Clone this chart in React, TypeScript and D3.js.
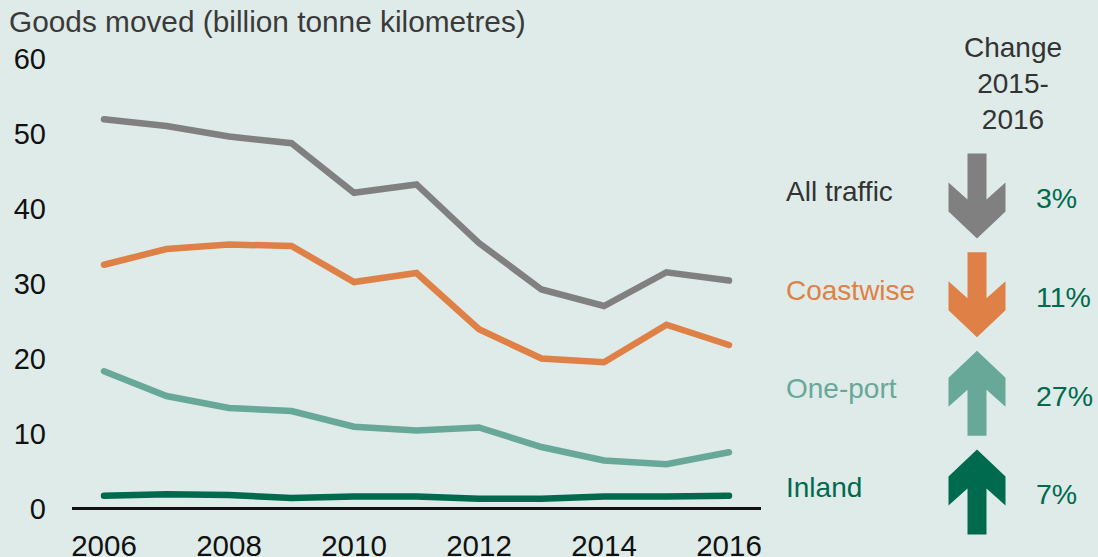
import React, { useEffect, useRef } from 'react';
import * as d3 from 'd3';

const years = [2006, 2007, 2008, 2009, 2010, 2011, 2012, 2013, 2014, 2015, 2016];
const allTraffic = [51.9, 51.0, 49.6, 48.7, 42.1, 43.2, 35.4, 29.2, 27.0, 31.5, 30.4];
const coastwise = [32.5, 34.6, 35.2, 35.0, 30.2, 31.4, 23.9, 20.0, 19.5, 24.5, 21.8];
const onePort = [18.3, 15.0, 13.4, 13.0, 10.9, 10.4, 10.8, 8.2, 6.4, 5.9, 7.5];
const inland = [1.7, 1.9, 1.8, 1.4, 1.6, 1.6, 1.3, 1.3, 1.6, 1.6, 1.7];

const seriesNames = ['All traffic', 'Coastwise', 'One-port', 'Inland'];
const seriesColors = ['#808080', '#df8046', '#67a898', '#006a4f'];
const labelColors = ['#333333', '#df8046', '#67a898', '#006a4f'];
const changes = [-3, -11, 27, 7];
const yTicks = [0, 10, 20, 30, 40, 50, 60];
const xTicks = [2006, 2008, 2010, 2012, 2014, 2016];

const W = 1098;
const H = 557;
const FONT = '"Liberation Sans", Arial, sans-serif';

export default function App() {
  const ref = useRef<SVGSVGElement>(null);

  useEffect(() => {
    const svg = d3.select(ref.current);
    svg.selectAll('*').remove();

    svg.append('rect').attr('width', W).attr('height', H).attr('fill', '#dfebe8');

    const x = d3.scaleLinear().domain([2006, 2016]).range([104, 729]);
    const y = d3.scaleLinear().domain([0, 60]).range([508.5, 58.5]);

    // title
    svg.append('text')
      .attr('x', 9).attr('y', 32)
      .attr('font-family', FONT).attr('font-size', 29.8)
      .attr('fill', '#3a3a3a')
      .text('Goods moved (billion tonne kilometres)');

    // y tick labels
    svg.selectAll('.ytick')
      .data(yTicks)
      .enter().append('text')
      .attr('class', 'ytick')
      .attr('x', 46)
      .attr('y', d => y(d))
      .attr('dy', '0.36em')
      .attr('text-anchor', 'end')
      .attr('font-family', FONT).attr('font-size', 29)
      .attr('fill', '#111')
      .text(d => d);

    // x tick labels
    svg.selectAll('.xtick')
      .data(xTicks)
      .enter().append('text')
      .attr('class', 'xtick')
      .attr('x', d => x(d))
      .attr('y', 556)
      .attr('text-anchor', 'middle')
      .attr('font-family', FONT).attr('font-size', 29.5)
      .attr('fill', '#111')
      .text(d => d);

    // baseline
    svg.append('line')
      .attr('x1', 72).attr('x2', 761)
      .attr('y1', y(0)).attr('y2', y(0))
      .attr('stroke', '#111').attr('stroke-width', 3);

    const series = [allTraffic, coastwise, onePort, inland];
    const line = d3.line<number>()
      .x((_, i) => x(years[i]))
      .y(d => y(d));

    svg.selectAll('.series')
      .data(series)
      .enter().append('path')
      .attr('class', 'series')
      .attr('d', d => line(d))
      .attr('fill', 'none')
      .attr('stroke', (_, i) => seriesColors[i])
      .attr('stroke-width', 6.5)
      .attr('stroke-linecap', 'round')
      .attr('stroke-linejoin', 'miter');

    // right panel header
    const header = svg.append('text')
      .attr('x', 1013).attr('y', 57)
      .attr('text-anchor', 'middle')
      .attr('font-family', FONT).attr('font-size', 28)
      .attr('fill', '#333');
    ['Change', '2015-', '2016'].forEach((t, i) => {
      header.append('tspan').attr('x', 1013).attr('dy', i === 0 ? 0 : 36).text(t);
    });

    const row = d3.scalePoint<string>().domain(seriesNames).range([196, 492]);

    // arrow shape centred on 0,0; dir +1 points down, -1 points up
    const arrowPath = (s: number) => {
      const p = d3.path();
      p.moveTo(-9.5, -42.5 * s);
      p.lineTo(9.5, -42.5 * s);
      p.lineTo(9.5, 3.5 * s);
      p.lineTo(28.5, -13.5 * s);
      p.lineTo(28.5, 15.5 * s);
      p.lineTo(0, 42.5 * s);
      p.lineTo(-28.5, 15.5 * s);
      p.lineTo(-28.5, -13.5 * s);
      p.lineTo(-9.5, 3.5 * s);
      p.closePath();
      return p.toString();
    };

    const rows = svg.selectAll('.row')
      .data(seriesNames)
      .enter().append('g')
      .attr('class', 'row')
      .attr('transform', d => `translate(0,${row(d)})`);

    rows.append('text')
      .attr('x', 786).attr('y', -5)
      .attr('dy', '0.36em')
      .attr('font-family', FONT).attr('font-size', 28)
      .attr('fill', (_, i) => labelColors[i])
      .text(d => d);

    rows.append('path')
      .attr('transform', 'translate(977,0)')
      .attr('d', (_, i) => arrowPath(changes[i] < 0 ? 1 : -1))
      .attr('fill', (_, i) => seriesColors[i]);

    rows.append('text')
      .attr('x', 1036).attr('y', 2)
      .attr('dy', '0.36em')
      .attr('font-family', FONT).attr('font-size', 28.5)
      .attr('fill', '#006a4f')
      .text((_, i) => `${Math.abs(changes[i])}%`);
  }, []);

  return (
    <svg
      ref={ref}
      width={W}
      height={H}
      style={{ position: 'absolute', left: 0, top: 0, display: 'block' }}
    />
  );
}
